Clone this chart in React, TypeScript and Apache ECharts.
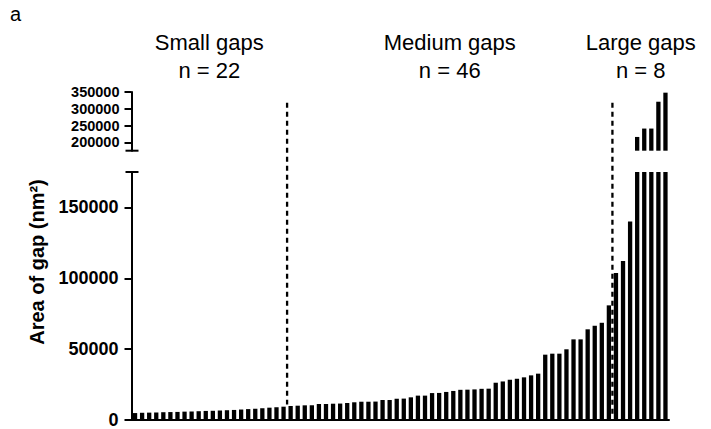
import React, { useEffect, useRef } from "react";
import * as echarts from "echarts";

const smallGaps = [4900, 5100, 5200, 5300, 5500, 5600, 5700, 5900, 6000, 6200, 6400, 6500, 6700, 6900, 7100, 7400, 7700, 7900, 8300, 8700, 9000, 9400];
const mediumGaps = [9900, 10100, 10350, 10400, 11300, 11300, 11500, 11600, 12000, 12500, 12900, 12900, 13000, 14100, 14100, 15000, 15100, 16000, 17200, 17200, 19000, 19100, 19800, 20500, 21300, 21400, 21600, 22000, 22100, 26300, 27200, 28400, 29100, 30100, 31500, 32700, 46100, 46800, 46800, 49900, 56900, 56900, 64000, 66500, 68600, 80900];
const largeGaps = [103700, 112200, 140000, 216000, 241000, 241000, 321000, 348000];
const groupTitles = ["Small gaps", "Medium gaps", "Large gaps"];
const upperTicks = [200000, 250000, 300000, 350000];
const lowerTicks = [0, 50000, 100000, 150000];
const breakValue = 175000;
const upperMax = 350000;

const values = [...smallGaps, ...mediumGaps, ...largeGaps];
const categories = values.map((_, i) => String(i + 1));
const groups = [smallGaps, mediumGaps, largeGaps];

const FONT = '"Liberation Sans", Arial, Helvetica, sans-serif';
const GRID_LEFT = 131.5;
const GRID_RIGHT = 42;

export default function App() {
  const ref = useRef<HTMLDivElement>(null);
  useEffect(() => {
    if (!ref.current) return;
    const chart = echarts.init(ref.current, null, { renderer: "svg" });
    const axisLine = { show: true, lineStyle: { color: "#000", width: 2 } };
    const plain = (v: number) => String(v);
    const option: any = {
      animation: false,
      grid: [
        { left: GRID_LEFT, right: GRID_RIGHT, top: 92, height: 58.7 },
        { left: GRID_LEFT, right: GRID_RIGHT, top: 172, bottom: 9 },
      ],
      xAxis: [
        { type: "category", gridIndex: 0, data: categories, show: false },
        {
          type: "category",
          gridIndex: 1,
          data: categories,
          axisLine,
          axisTick: { show: false },
          axisLabel: { show: false },
        },
      ],
      yAxis: [
        {
          type: "value",
          gridIndex: 0,
          min: breakValue,
          max: upperMax,
          splitLine: { show: false },
          axisLine,
          axisTick: { show: true, length: 7, lineStyle: { width: 2, color: "#000" }, customValues: upperTicks },
          axisLabel: { customValues: upperTicks, formatter: plain, margin: 12, color: "#000", fontWeight: "bold", fontSize: 14.5, fontFamily: FONT },
        },
        {
          type: "value",
          gridIndex: 1,
          min: 0,
          max: breakValue,
          splitLine: { show: false },
          axisLine,
          axisTick: { show: true, length: 7, lineStyle: { width: 2, color: "#000" }, customValues: lowerTicks },
          axisLabel: { customValues: lowerTicks, formatter: plain, margin: 13, color: "#000", fontWeight: "bold", fontSize: 18, fontFamily: FONT },
        },
      ],
      series: [
        { type: "bar", xAxisIndex: 0, yAxisIndex: 0, data: values, barWidth: 4.3, itemStyle: { color: "#000" }, clip: true },
        { type: "bar", xAxisIndex: 1, yAxisIndex: 1, data: values, barWidth: 4.3, itemStyle: { color: "#000" }, clip: true },
      ],
    };
    chart.setOption(option);

    const px = (i: number) => chart.convertToPixel({ xAxisIndex: 1 }, categories[i]) as number;
    const yUp = (v: number) => chart.convertToPixel({ yAxisIndex: 0 }, v) as number;
    const yLo = (v: number) => chart.convertToPixel({ yAxisIndex: 1 }, v) as number;

    const graphics: any[] = [];
    const dash = { stroke: "#000", lineWidth: 2.3, lineDash: [5, 4] };
    let start = 0;
    const bounds: number[] = [];
    groups.forEach((g) => {
      start += g.length;
      bounds.push(start);
    });
    const dashBottoms = [11000, 3000];
    [bounds[0], bounds[1]].forEach((b, k) => {
      const x = (px(b - 1) + px(b)) / 2;
      graphics.push({
        type: "line",
        shape: { x1: x, y1: yUp(318000), x2: x, y2: yLo(dashBottoms[k]) },
        style: dash,
        z: 100,
      });
    });
    const ax = GRID_LEFT;
    graphics.push({ type: "line", shape: { x1: ax - 6, y1: yUp(breakValue), x2: ax + 7, y2: yUp(breakValue) }, style: { stroke: "#000", lineWidth: 2 } });
    graphics.push({ type: "line", shape: { x1: ax - 6, y1: yLo(breakValue), x2: ax + 7, y2: yLo(breakValue) }, style: { stroke: "#000", lineWidth: 2 } });
    let s = 0;
    groups.forEach((g, k) => {
      const cx = (px(s) + px(s + g.length - 1)) / 2;
      s += g.length;
      graphics.push({
        type: "text",
        x: cx,
        y: 42,
        style: { text: groupTitles[k], fontSize: 22, fontFamily: FONT, fill: "#000", textAlign: "center", textVerticalAlign: "middle" },
      });
      graphics.push({
        type: "text",
        x: cx,
        y: 70,
        style: { text: "n = " + g.length, fontSize: 22, fontFamily: FONT, fill: "#000", textAlign: "center", textVerticalAlign: "middle" },
      });
    });
    graphics.push({
      type: "text",
      x: 10,
      y: 14,
      style: { text: "a", fontSize: 20, fontFamily: FONT, fill: "#000", textAlign: "left", textVerticalAlign: "middle" },
    });
    graphics.push({
      type: "text",
      x: 37,
      y: 262,
      rotation: Math.PI / 2,
      style: { text: "Area of gap (nm²)", fontSize: 20, fontWeight: "bold", fontFamily: FONT, fill: "#000", textAlign: "center", textVerticalAlign: "middle" },
    });
    chart.setOption({ graphic: graphics });
    return () => chart.dispose();
  }, []);
  return <div ref={ref} style={{ position: "fixed", left: 0, top: 0, width: 711, height: 429, background: "#fff" }} />;
}
